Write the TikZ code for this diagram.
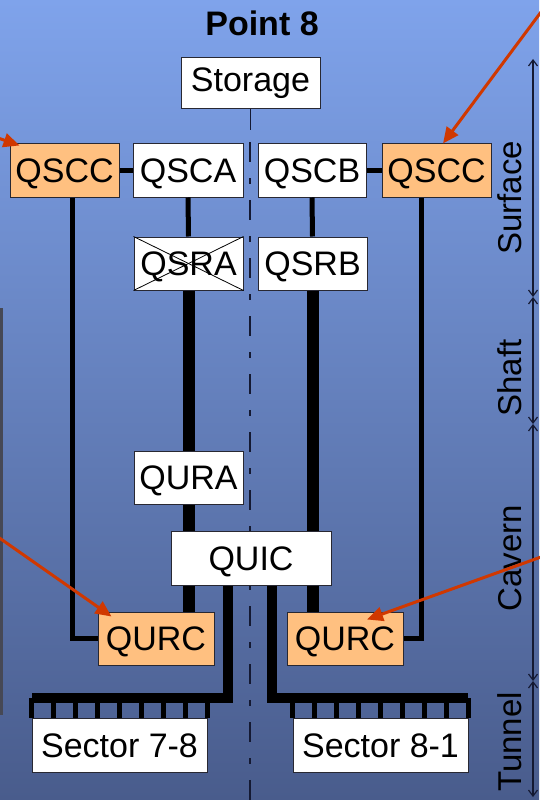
\documentclass[tikz,border=0pt]{standalone}
\usepackage{fontspec}
\setmainfont{Liberation Sans}
\usetikzlibrary{arrows.meta,calc}
\definecolor{bgtop}{RGB}{127,163,235}
\definecolor{bgbot}{RGB}{73,92,140}
\definecolor{orangebox}{RGB}{255,192,128}
\definecolor{pointer}{RGB}{208,56,0}
\definecolor{boxline}{RGB}{40,40,50}
\definecolor{dimline}{RGB}{20,25,50}
\definecolor{stripcol}{RGB}{70,72,85}
\begin{document}
\begin{tikzpicture}[x=1pt,y=-1pt,
  box/.style={draw=boxline, line width=1pt, fill=white, inner sep=0pt,
    font=\fontsize{34}{40}\selectfont, text height=24.5pt, text depth=0pt,
    minimum width=109pt, minimum height=54pt},
  hot/.style={box, fill=orangebox},
  thinbus/.style={line width=5pt, line join=miter},
  thickbus/.style={line width=12pt},
  sectorbus/.style={line width=10pt, line join=miter},
  combtick/.style={line width=4.5pt},
  pointerarrow/.style={draw=pointer, line width=3pt, -{Triangle[length=16pt,width=14pt]}},
  dimarrow/.style={draw=dimline, line width=1.2pt, {Straight Barb[length=6pt,width=9pt]}-{Straight Barb[length=6pt,width=9pt]}},
  zonelabel/.style={rotate=90, font=\fontsize{33}{40}\selectfont, text height=23.6pt, text depth=0pt, inner sep=0pt},
  centerline/.style={draw=dimline, line width=1.3pt, dash pattern=on 20pt off 16pt on 6pt off 16pt}
]
\useasboundingbox (0,0) rectangle (539,800);
\shade[top color=bgtop, bottom color=bgbot] (0,0) rectangle (539,800);
\fill[stripcol] (0,308) rectangle (2.5,715);

% centre line
\coordinate (cltop) at (250,142);
\coordinate (clbot) at (250,800);
\draw[centerline] (cltop) -- (clbot);

% title
\node[font=\bfseries\fontsize{34}{40}\selectfont, text height=24.5pt, text depth=0pt, inner sep=0pt] (title) at (262,23) {Point 8};

% boxes
\node[box, minimum width=139pt, minimum height=50pt, text depth=7pt] (storage) at (250.5,83) {Storage};
\node[hot] (qsccl) at (64.5,170) {QSCC};
\node[box, minimum width=110pt] (qsca) at (188,170) {QSCA};
\node[box, minimum width=108pt] (qscb) at (312,170) {QSCB};
\node[hot] (qsccr) at (436.5,170) {QSCC};
\node[box, minimum height=53pt] (qsra) at (188.5,263.5) {QSRA};
\node[box, minimum height=53pt] (qsrb) at (312.5,263.5) {QSRB};
\node[box, minimum height=53pt] (qura) at (188.5,477.5) {QURA};
\node[box, minimum width=160pt] (quic) at (251,558) {QUIC};
\node[hot, minimum width=116pt, minimum height=53pt] (qurcl) at (156,638.5) {QURC};
\node[hot, minimum width=116pt, minimum height=53pt] (qurcr) at (345,638.5) {QURC};
\node[box, minimum width=175pt] (s78) at (119.5,745) {Sector 7-8};
\node[box, minimum width=175pt] (s81) at (380.5,745) {Sector 8-1};

% crossed-out QSRA
\draw[line width=0.8pt] (qsra.south west) -- (qsra.north east);
\draw[line width=0.8pt] (qsra.north west) -- (qsra.south east);

% storage link
\draw[draw=dimline, line width=1.3pt] (storage.south) -- ++(0,21);

% surface links
\draw[thinbus] (qsccl.east) -- (qsca.west);
\draw[thinbus] (qscb.east) -- (qsccr.west);
\draw[thinbus] (qsca.south) -- (qsra.north);
\draw[thinbus] (qscb.south) -- (qsrb.north);

% shaft links
\draw[thickbus] (qsra.south) -- (qura.north);
\draw[thickbus] (qura.south) -- (qura.south |- quic.north);
\draw[thickbus] (quic.south -| qura.south) -- (qurcl.north -| qura.south);
\draw[thickbus] (qsrb.south) -- (qsrb.south |- quic.north);
\draw[thickbus] (quic.south -| qsrb.south) -- (qurcr.north -| qsrb.south);

% QSCC to QURC
\draw[thinbus] ([xshift=8pt]qsccl.south) |- (qurcl.west);
\draw[thinbus] ([xshift=-15.5pt]qsccr.south) |- (qurcr.east);

% sector buses
\coordinate (busl) at (32,698);
\coordinate (busr) at (468,698);
\draw[sectorbus] ([xshift=-23pt]quic.south) |- (busl);
\draw[sectorbus] ([xshift=21pt]quic.south) |- (busr);
\foreach \i in {0,...,8} {
  \draw[combtick] ($(s78.north west)!\i/8!(s78.north east)$) -- ++(0,-20);
  \draw[combtick] ($(s81.north west)!\i/8!(s81.north east)$) -- ++(0,-20);
}

% zone dimension line
\coordinate (d0) at (533,59);
\coordinate (d1) at (533,297);
\coordinate (d2) at (533,424);
\coordinate (d3) at (533,681);
\coordinate (d4) at (533,797);
\draw[dimarrow] (d0) -- (d1);
\draw[dimarrow] (d1) -- (d2);
\draw[dimarrow] (d2) -- (d3);
\draw[dimarrow] (d3) -- (d4);
\node[zonelabel] (lsurface) at (510,198) {Surface};
\node[zonelabel] (lshaft) at (510,378) {Shaft};
\node[zonelabel] (lcavern) at (510,558) {Cavern};
\node[zonelabel] (ltunnel) at (510,742) {Tunnel};

% pointer arrows
\coordinate (a1) at (541,12);
\coordinate (a2) at (-2,138);
\coordinate (a3) at (-2,537);
\coordinate (a4) at (541,557);
\draw[pointerarrow] (a1) -- ($(qsccr.north)+(6.5,1)$);
\draw[pointerarrow] (a2) -- ($(qsccl.north west)+(10,3)$);
\draw[pointerarrow] (a3) -- ($(qurcl.north west)+(14,5)$);
\draw[pointerarrow] (a4) -- ($(qurcr.north)+(22,8)$);
\end{tikzpicture}
\end{document}
